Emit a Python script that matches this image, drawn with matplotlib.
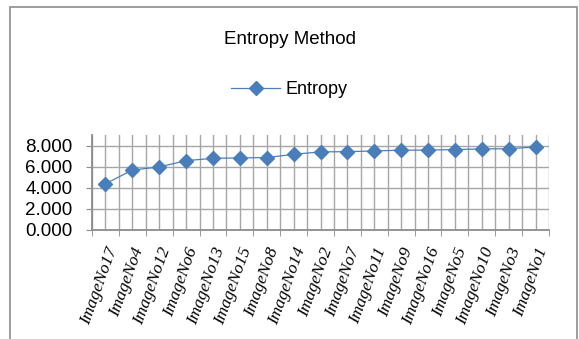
import matplotlib.pyplot as plt
import matplotlib.patches as mpatches
import numpy as np

# data
images = ['ImageNo17', 'ImageNo4', 'ImageNo12', 'ImageNo6', 'ImageNo13', 'ImageNo15',
          'ImageNo8', 'ImageNo14', 'ImageNo2', 'ImageNo7', 'ImageNo11', 'ImageNo9',
          'ImageNo16', 'ImageNo5', 'ImageNo10', 'ImageNo3', 'ImageNo1']
entropy = [4.38, 5.68, 5.97, 6.57, 6.79, 6.83, 6.86, 7.17, 7.40, 7.42,
           7.49, 7.56, 7.57, 7.62, 7.68, 7.70, 7.87]
yticks = [0, 2, 4, 6, 8]

blue = '#4a7ebb'
grid_c = '#a6a6a6'
sans = ['Liberation Sans', 'DejaVu Sans']

fig = plt.figure(figsize=(5.79, 3.39), dpi=100)
fig.patches.append(mpatches.Rectangle((10 / 579, -0.05), 567 / 579, 1 - 7 / 339 + 0.05,
                                      transform=fig.transFigure, fill=False,
                                      edgecolor='#8c8c8c', linewidth=1.2))

ax = fig.add_axes([92 / 579, 1 - 230 / 339, 457 / 579, 95 / 339])
x = np.arange(len(images))
ax.plot(x, entropy, color=blue, linewidth=0.9, marker='D', markersize=7,
        markerfacecolor=blue, markeredgecolor=blue, label='Entropy', zorder=3)

ax.set_xlim(-0.5, len(images) - 0.5)
ax.set_ylim(0, 9)
ax.set_yticks(yticks)
ax.set_yticklabels([f'{v:.3f}' for v in yticks])
ax.tick_params(axis='y', length=4, color='#8c8c8c', pad=10,
               labelsize=13.5, labelfontfamily='Liberation Sans')

ax.set_xticks(x)
ax.set_xticklabels(images, rotation=70, ha='right', va='top', rotation_mode='anchor',
                   fontfamily=['Liberation Serif'], fontstyle='italic', fontsize=12.5)
ax.set_xticks(np.arange(len(images) + 1) - 0.5, minor=True)
ax.tick_params(axis='x', which='major', length=0, pad=11)
ax.tick_params(axis='x', which='minor', length=4, color='#8c8c8c')

ax.grid(True, which='both', color=grid_c, linewidth=1.0)
ax.set_axisbelow(True)
for s in ['top', 'right']:
    ax.spines[s].set_visible(False)
for s in ['left', 'bottom']:
    ax.spines[s].set_color('#8c8c8c')
    ax.spines[s].set_linewidth(1.3)

fig.text(0.5, 1 - 40 / 339, 'Entropy Method', ha='center', va='center',
         fontfamily=sans, fontsize=13.5)
fig.legend(loc='center', bbox_to_anchor=(0.5, 1 - 90 / 339), frameon=False,
           prop={'family': sans, 'size': 13}, handlelength=2.7, handletextpad=0.3)

plt.savefig('out.png', dpi=100)
